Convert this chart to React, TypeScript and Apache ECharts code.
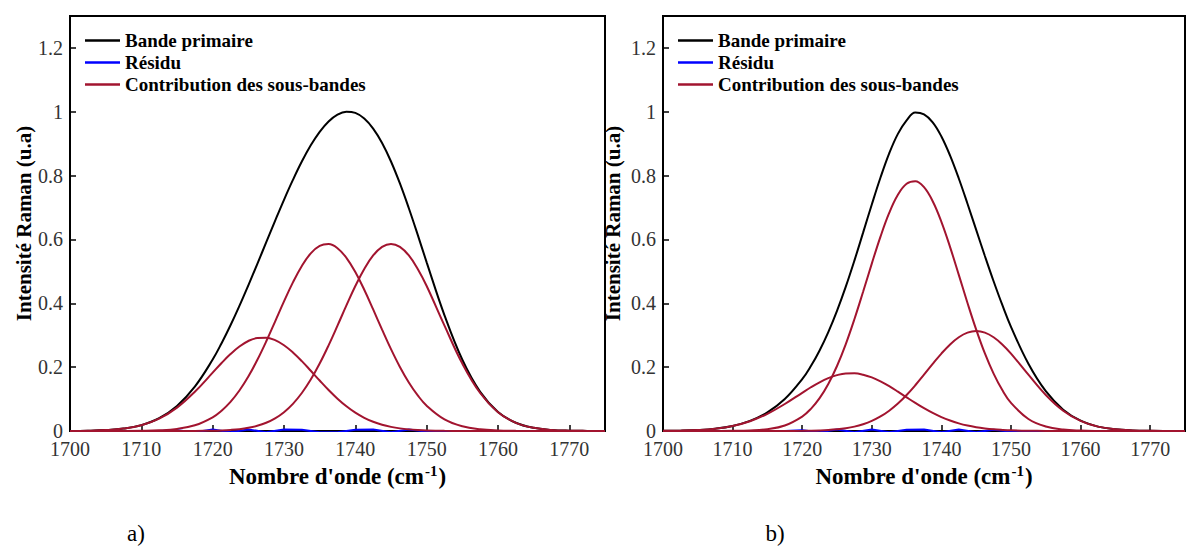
import React, { useEffect, useRef } from 'react';
import * as echarts from 'echarts';

// Wavenumber sampling (cm-1)
const X = [1700, 1702.5, 1705, 1707.5, 1710, 1712.5, 1715, 1717.5, 1720, 1722.5, 1725, 1727.5, 1730, 1732.5, 1735, 1737.5, 1740, 1742.5, 1745, 1747.5, 1750, 1752.5, 1755, 1757.5, 1760, 1762.5, 1765, 1767.5, 1770, 1772.5, 1775];
// Extra readings in the central region (cm-1)
const FINE_X = [1721.25, 1723.75, 1726.25, 1728.75, 1731.25, 1733.75, 1736.25, 1738.75, 1741.25, 1743.75, 1746.25, 1748.75];

// Panel a)
const aPrimary = [0.0003, 0.0009, 0.0028, 0.0075, 0.0184, 0.0402, 0.0787, 0.1391, 0.2238, 0.3313, 0.4565, 0.5906, 0.7242, 0.844, 0.9371, 0.9911, 0.9964, 0.9472, 0.8443, 0.6978, 0.5283, 0.3624, 0.2232, 0.1226, 0.0598, 0.0259, 0.0099, 0.0034, 0.001, 0.0003, 0.0001];
const aPrimaryFine = [0.275, 0.3921, 0.523, 0.6583, 0.7865, 0.8948, 0.9697, 1.0, 0.9786, 0.9021, 0.7754, 0.6144];
const aResidual = [0, 0, 0, 0, 0, 0, 0.002, -0.004, 0.005, -0.004, 0.005, -0.004, 0.005, 0.004, -0.004, -0.004, 0.004, 0.005, -0.004, 0.005, -0.002, 0, 0, 0, 0, 0, 0, 0, 0, 0, 0];
const aSub1 = [0.0003, 0.0009, 0.0028, 0.0075, 0.018, 0.0386, 0.0731, 0.1228, 0.1827, 0.241, 0.282, 0.2923, 0.2687, 0.2189, 0.1581, 0.1012, 0.0574, 0.0289, 0.0129, 0.0051, 0.0018, 0.0006, 0.0002, 0.0001, 0, 0, 0, 0, 0, 0, 0];
const aSub1Fine = [0.213, 0.2646, 0.2914, 0.2845, 0.2461, 0.1888, 0.1284, 0.0774, 0.0413, 0.0196, 0.0082, 0.0031];
const aSub2 = [0, 0, 0, 0.0001, 0.0006, 0.0021, 0.0065, 0.0178, 0.043, 0.0912, 0.1705, 0.2803, 0.4059, 0.5171, 0.58, 0.5727, 0.4978, 0.3808, 0.2564, 0.152, 0.0793, 0.0364, 0.0147, 0.0052, 0.0016, 0.0005, 0.0001, 0, 0, 0, 0];
const aSub2Fine = [0.0637, 0.1268, 0.2222, 0.3428, 0.4655, 0.5565, 0.5856, 0.5425, 0.4423, 0.3175, 0.2006, 0.1116];
const aSub3 = [0, 0, 0, 0, 0, 0, 0.0001, 0.0003, 0.001, 0.0034, 0.0099, 0.0257, 0.059, 0.119, 0.2112, 0.3301, 0.4541, 0.5498, 0.586, 0.5498, 0.4541, 0.3301, 0.2112, 0.119, 0.059, 0.0257, 0.0099, 0.0034, 0.001, 0.0003, 0.0001];
const aSub3Fine = [0.0019, 0.0058, 0.0162, 0.0396, 0.0851, 0.1611, 0.2683, 0.3934, 0.5077, 0.5767, 0.5767, 0.5077];

// Panel b)
const bPrimary = [0.0004, 0.0011, 0.003, 0.0073, 0.0159, 0.0318, 0.0584, 0.1, 0.1623, 0.2523, 0.3764, 0.5338, 0.7095, 0.8697, 0.9731, 0.9916, 0.9227, 0.7909, 0.6299, 0.4691, 0.3263, 0.2106, 0.1246, 0.0669, 0.0322, 0.0137, 0.0053, 0.0018, 0.0005, 0.0001, 0];
const bPrimaryFine = [0.2033, 0.3098, 0.4514, 0.6213, 0.794, 0.9308, 0.9975, 0.967, 0.8626, 0.7119, 0.5481, 0.3948];
const bResidual = [0, 0, 0, 0, 0, 0, 0, 0, 0.002, -0.004, 0.005, -0.004, 0.005, -0.004, 0.004, 0.005, -0.004, 0.005, -0.004, 0.004, -0.002, 0, 0, 0, 0, 0, 0, 0, 0, 0, 0];
const bSub1 = [0.0004, 0.0011, 0.0031, 0.0073, 0.0158, 0.0307, 0.0538, 0.0846, 0.1197, 0.1526, 0.175, 0.1806, 0.1678, 0.1403, 0.1055, 0.0714, 0.0435, 0.0239, 0.0118, 0.0052, 0.0021, 0.0008, 0.0002, 0.0001, 0, 0, 0, 0, 0, 0, 0];
const bSub1Fine = [0.137, 0.1656, 0.1801, 0.1764, 0.1554, 0.1233, 0.088, 0.0565, 0.0327, 0.017, 0.008, 0.0034];
const bSub2 = [0, 0, 0, 0.0001, 0.0004, 0.0017, 0.0058, 0.0173, 0.0453, 0.1029, 0.2036, 0.3502, 0.5244, 0.6832, 0.7743, 0.7637, 0.6552, 0.4891, 0.3177, 0.1796, 0.0882, 0.0377, 0.0141, 0.0045, 0.0013, 0.0003, 0.0001, 0, 0, 0, 0];
const bSub2Fine = [0.0694, 0.1473, 0.2716, 0.4361, 0.609, 0.7401, 0.7825, 0.7197, 0.576, 0.4011, 0.243, 0.1281];
const bSub3 = [0, 0, 0, 0, 0, 0, 0, 0.0001, 0.0005, 0.0018, 0.0053, 0.0137, 0.0315, 0.0636, 0.1128, 0.1763, 0.2425, 0.2937, 0.313, 0.2937, 0.2425, 0.1763, 0.1128, 0.0636, 0.0315, 0.0137, 0.0053, 0.0018, 0.0005, 0.0001, 0];
const bSub3Fine = [0.001, 0.0031, 0.0087, 0.0212, 0.0455, 0.086, 0.1433, 0.2101, 0.2712, 0.308, 0.3081, 0.2712];

const NAMES = ['Bande primaire', 'Résidu', 'Contribution des sous-bandes'];
const PANEL_LABELS = ['a)', 'b)'];
const X_TITLE = ["Nombre d'onde (cm", '-1', ')'];
const Y_TITLE = 'Intensité Raman (u.a)';

const FONT = '"Liberation Serif", "Times New Roman", serif';
const RED = '#A2142F';
const BLUE = '#0000FF';

const pairs = (ys: number[], extraY?: number[]) => {
  const d = X.map((x, i) => [x, ys[i]]);
  if (extraY) FINE_X.forEach((x, i) => d.push([x, extraY[i]]));
  return d.sort((p, q) => p[0] - q[0]);
};

export default function App() {
  const ref = useRef<HTMLDivElement>(null);
  useEffect(() => {
    const chart = echarts.init(ref.current!, null, { renderer: 'svg' });
    const panels = [
      {
        left: 70, legendLeft: 80, yGap: 29, label: 136,
        primary: pairs(aPrimary, aPrimaryFine), residual: pairs(aResidual),
        subs: [pairs(aSub1, aSub1Fine), pairs(aSub2, aSub2Fine), pairs(aSub3, aSub3Fine)],
      },
      {
        left: 663, legendLeft: 673, yGap: 40, label: 775,
        primary: pairs(bPrimary, bPrimaryFine), residual: pairs(bResidual),
        subs: [pairs(bSub1, bSub1Fine), pairs(bSub2, bSub2Fine), pairs(bSub3, bSub3Fine)],
      },
    ];
    const grid = panels.map((p) => ({
      left: p.left, top: 16, width: 535, height: 415,
      show: true, borderColor: '#000', borderWidth: 2, backgroundColor: 'transparent',
    }));
    const xAxis = panels.map((_, i) => ({
      type: 'value', gridIndex: i, min: 1700, max: 1775, interval: 10,
      axisLine: { show: true, lineStyle: { color: '#000', width: 2 } },
      axisTick: { show: true, inside: true, length: 6, lineStyle: { color: '#000', width: 1.5 } },
      splitLine: { show: false },
      axisLabel: {
        color: '#333', fontFamily: FONT, fontSize: 20, margin: 8,
        formatter: (v: number) => (Math.abs(v % 10) < 1e-6 ? String(v) : ''),
      },
      name: `{t|${X_TITLE[0]}}{s|${X_TITLE[1]}}{t|${X_TITLE[2]}}`,
      nameLocation: 'middle', nameGap: 32,
      nameTextStyle: {
        rich: {
          t: { fontFamily: FONT, fontWeight: 'bold', fontSize: 23, color: '#000', verticalAlign: 'bottom' },
          s: { fontFamily: FONT, fontWeight: 'bold', fontSize: 15, color: '#000', verticalAlign: 'bottom', padding: [0, 1, 9, 1] },
        },
      },
    }));
    const yAxis = panels.map((p, i) => ({
      type: 'value', gridIndex: i, min: 0, max: 1.3, interval: 0.2,
      axisLine: { show: true, lineStyle: { color: '#000', width: 2 } },
      axisTick: { show: true, inside: true, length: 6, lineStyle: { color: '#000', width: 1.5 } },
      splitLine: { show: false },
      axisLabel: {
        color: '#333', fontFamily: FONT, fontSize: 20, margin: 7,
        formatter: (v: number) => (Math.abs(v * 5 - Math.round(v * 5)) < 1e-6 ? String(+v.toFixed(1)) : ''),
      },
      name: Y_TITLE, nameLocation: 'middle', nameGap: p.yGap,
      nameTextStyle: { fontFamily: FONT, fontWeight: 'bold', fontSize: 21, color: '#000' },
    }));
    const series: any[] = [];
    panels.forEach((p, i) => {
      series.push({
        type: 'line', name: NAMES[0], xAxisIndex: i, yAxisIndex: i, data: p.primary,
        showSymbol: false, smooth: 0.4, color: '#000', lineStyle: { color: '#000', width: 2 },
      });
      series.push({
        type: 'line', name: NAMES[1], xAxisIndex: i, yAxisIndex: i, data: p.residual,
        showSymbol: false, smooth: false, color: BLUE, lineStyle: { color: BLUE, width: 2 },
      });
      p.subs.forEach((s) => {
        series.push({
          type: 'line', name: NAMES[2], xAxisIndex: i, yAxisIndex: i, data: s,
          showSymbol: false, smooth: 0.4, color: RED, lineStyle: { color: RED, width: 2 },
        });
      });
    });
    const legend = panels.map((p) => ({
      left: p.legendLeft, top: 26, orient: 'vertical', itemWidth: 35, itemHeight: 2.5, itemGap: 3,
      icon: 'rect', selectedMode: false, data: NAMES,
      textStyle: { fontFamily: FONT, fontWeight: 'bold', fontSize: 19, color: '#000' },
    }));
    const graphic = panels.map((p, i) => ({
      type: 'text', x: p.label, y: 533,
      style: { text: PANEL_LABELS[i], fontFamily: FONT, fontSize: 23, fill: '#000', align: 'center', verticalAlign: 'middle' },
    }));
    chart.setOption({
      animation: false,
      backgroundColor: '#fff',
      grid, xAxis, yAxis, series, legend, graphic,
    });
    return () => chart.dispose();
  }, []);
  return <div ref={ref} style={{ position: 'absolute', left: 0, top: 0, width: 1188, height: 547 }} />;
}
